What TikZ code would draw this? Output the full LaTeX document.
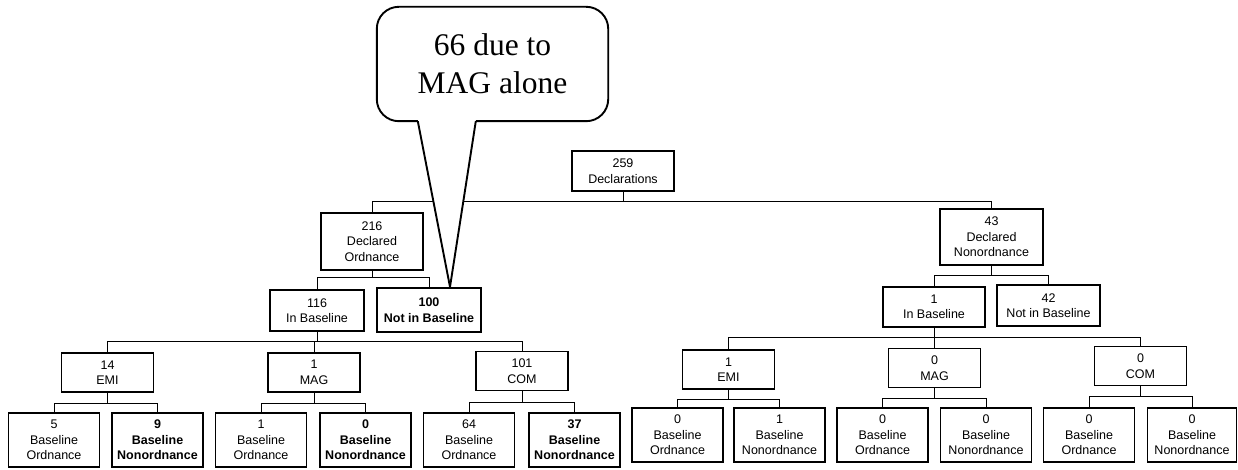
\documentclass[tikz,border=0pt]{standalone}
\usepackage{fontspec}
\setmainfont{Liberation Sans}
\newfontfamily\notefont{Liberation Serif}
\begin{document}
\begin{tikzpicture}[x=1pt,y=-1pt,
  box/.style={draw,line width=1.1pt,align=center,inner sep=0pt,font=\fontsize{12.5}{15.5}\selectfont},
  heavy/.style={box,line width=2.3pt,font=\fontsize{12.5}{15.5}\selectfont\bfseries},
  kind/.style={minimum width=92pt,minimum height=39pt},
  leaf/.style={minimum width=91pt,minimum height=54pt},
  wire/.style={line width=0.9pt},
  balloon/.style={line width=1.9pt,line join=round}]
\path[use as bounding box,fill=white] (0,0) rectangle (1238,470);
% top of the tree
\node[box,minimum width=102pt,minimum height=40pt] (all) at (623,171) {259\\Declarations};
\node[box,minimum width=102pt,minimum height=57pt] (ord) at (372,241.5) {216\\Declared\\Ordnance};
\node[box,minimum width=103pt,minimum height=56pt] (non) at (991.5,237) {43\\Declared\\Nonordnance};
\node[box,minimum width=94pt,minimum height=41pt] (ordin) at (317,310.5) {116\\In Baseline};
\node[heavy,minimum width=104pt,minimum height=44pt] (ordout) at (429,310) {100\\Not in Baseline};
\node[box,minimum width=102pt,minimum height=40pt] (nonin) at (934,307) {1\\In Baseline};
\node[box,minimum width=103pt,minimum height=41pt] (nonout) at (1048.5,305.5) {42\\Not in Baseline};
% sensors
\node[box,kind] (oemi) at (107.5,372.5) {14\\EMI};
\node[box,kind] (omag) at (314,372.5) {1\\MAG};
\node[box,kind] (ocom) at (522,371) {101\\COM};
\node[box,kind] (nemi) at (728.5,369.5) {1\\EMI};
\node[box,kind] (nmag) at (934.5,368) {0\\MAG};
\node[box,kind] (ncom) at (1140.5,366) {0\\COM};
% leaves
\node[box,leaf] (oemia) at (54,440) {5\\Baseline\\Ordnance};
\node[heavy,leaf] (oemib) at (157.5,440) {9\\Baseline\\Nonordnance};
\node[box,leaf] (omaga) at (261,440) {1\\Baseline\\Ordnance};
\node[heavy,leaf] (omagb) at (365.5,440) {0\\Baseline\\Nonordnance};
\node[box,leaf] (ocoma) at (469,440) {64\\Baseline\\Ordnance};
\node[heavy,leaf] (ocomb) at (574.5,440) {37\\Baseline\\Nonordnance};
\node[box,leaf] (nemia) at (677.5,435) {0\\Baseline\\Ordnance};
\node[box,leaf] (nemib) at (779.5,435) {1\\Baseline\\Nonordnance};
\node[box,leaf] (nmaga) at (882.5,435) {0\\Baseline\\Ordnance};
\node[box,leaf] (nmagb) at (986,435) {0\\Baseline\\Nonordnance};
\node[box,leaf] (ncoma) at (1089,435) {0\\Baseline\\Ordnance};
\node[box,leaf,minimum width=89pt] (ncomb) at (1192,435) {0\\Baseline\\Nonordnance};
% connectors
\draw[wire] (all.south) -- ++(0,10) -| (ord.north);
\draw[wire] (all.south) -- ++(0,10) -| (non.north);
\draw[wire] (ord.south) -- ++(0,7) -| (ordin.north);
\draw[wire] (ord.south) -- ++(0,7) -| (ordout.north);
\draw[wire] (non.south) -- ++(0,10) -| (nonin.north);
\draw[wire] (non.south) -- ++(0,10) -| (nonout.north);
\foreach \k in {oemi,omag,ocom} \draw[wire] (ordin.south) -- ++(0,10) -| (\k.north);
\foreach \k in {nemi,nmag,ncom} \draw[wire] (nonin.south) -- ++(0,10) -| (\k.north);
\foreach \k in {oemi,omag,ocom} {
  \draw[wire] (\k.south) -- ++(0,11) -| (\k a.north);
  \draw[wire] (\k.south) -- ++(0,11) -| (\k b.north);
}
\foreach \k in {nemi,nmag,ncom} {
  \draw[wire] (\k.south) -- ++(0,10) -| (\k a.north);
  \draw[wire] (\k.south) -- ++(0,10) -| (\k b.north);
}
% callout
\node[align=center,inner sep=0pt,minimum width=231pt,minimum height=114pt,
  font=\notefont\fontsize{31.5}{38}\selectfont] (note) at (492.5,64) {66 due to\\MAG alone};
\fill[white] ([xshift=41pt]note.south west) -- ([xshift=21pt]ordout.north) -- ([xshift=99pt]note.south west) -- cycle;
\draw[balloon,rounded corners=22pt] ([xshift=41pt]note.south west) -- (note.south west) -- (note.north west)
  -- (note.north east) -- (note.south east) -- ([xshift=99pt]note.south west);
\draw[balloon] ([xshift=41pt]note.south west) -- ([xshift=21pt]ordout.north) -- ([xshift=99pt]note.south west);
\end{tikzpicture}
\end{document}
